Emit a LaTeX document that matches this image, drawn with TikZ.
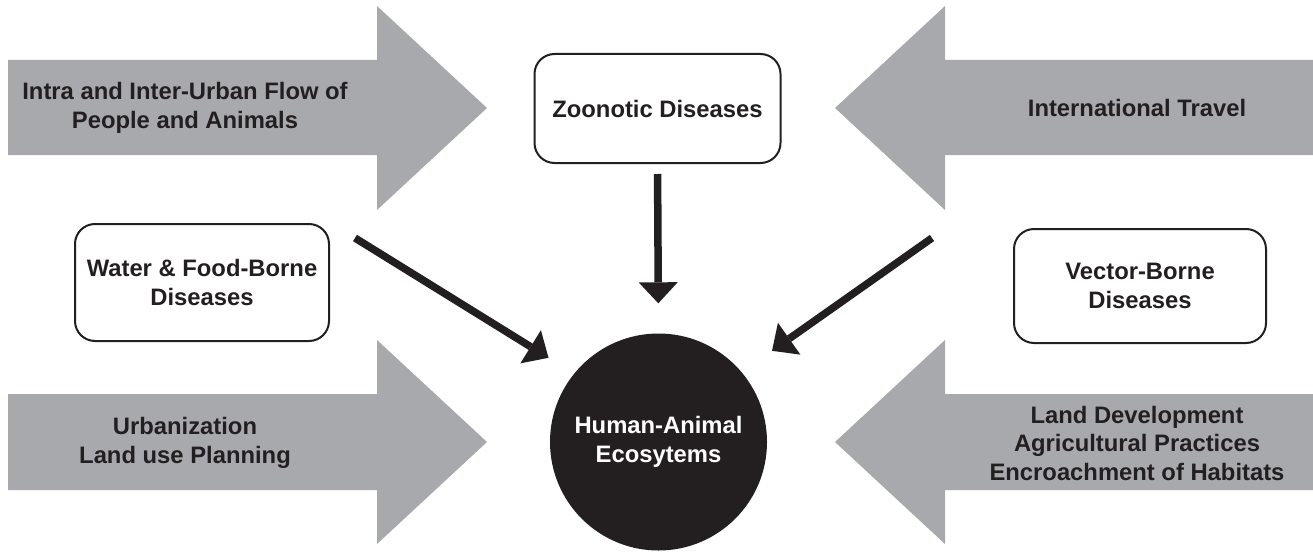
\documentclass[tikz,border=0pt]{standalone}
\usepackage{fontspec}
\setmainfont{Liberation Sans}
\usepackage{tikz}
\usetikzlibrary{positioning,arrows.meta}
\usepackage{xcolor}
\definecolor{flowgray}{RGB}{167,169,172}
\definecolor{inkdark}{RGB}{35,31,32}

\begin{document}
\begin{tikzpicture}[x=1pt,y=-1pt,>={Triangle[length=21pt,width=39pt,line width=0pt]},
  lbl/.style={font=\fontsize{23.8}{28.5}\selectfont\bfseries,text=inkdark,align=center},
  dbox/.style={lbl,draw=inkdark,line width=2pt,rounded corners=20pt,fill=white,inner sep=0pt},
  link/.style={->,draw=inkdark,line width=7.5pt}]
\useasboundingbox (0,0) rectangle (1313,551);
\fill[flowgray] (8,60) -- (377,60) -- (377,6) -- (487,108) -- (377,210) -- (377,155) -- (8,155) -- cycle;
\fill[flowgray] (1313,60) -- (945,60) -- (945,6) -- (835,108) -- (945,210) -- (945,155) -- (1313,155) -- cycle;
\fill[flowgray] (8,394) -- (377,394) -- (377,340) -- (487,442) -- (377,544) -- (377,490) -- (8,490) -- cycle;
\fill[flowgray] (1313,394) -- (945,394) -- (945,340) -- (835,442) -- (945,544) -- (945,490) -- (1313,490) -- cycle;
\node[lbl] (flow) at (185,108) {Intra and Inter-Urban Flow of\\People and Animals};
\node[lbl] (travel) at (1137,108) {International Travel};
\node[lbl] (urban) at (185,443) {Urbanization\\Land use Planning};
\node[lbl] (landdev) at (1137,443) {Land Development\\Agricultural Practices\\Encroachment of Habitats};
\node[dbox,minimum width=246pt,minimum height=109pt] (zoo) at (657.5,108.5) {Zoonotic Diseases};
\node[dbox,minimum width=254pt,minimum height=117pt] (water) at (202,282.5) {Water \& Food-Borne\\Diseases};
\node[dbox,minimum width=252pt,minimum height=114pt] (vector) at (1140,286) {Vector-Borne\\Diseases};
\node[circle,fill=inkdark,minimum size=217pt,inner sep=0pt,lbl,text=white] (eco) at (658.5,442) {Human-Animal\\Ecosytems};
\coordinate (waterlink) at (355,238);
\coordinate (vectorlink) at (932,238);
\draw[link,shorten <=10pt,shorten >=30pt] (zoo.south) -- (eco.north);
\draw[link,shorten >=30pt] (waterlink) -- (eco.141);
\draw[link,shorten >=37pt] (vectorlink) -- (eco.40);
\end{tikzpicture}
\end{document}
